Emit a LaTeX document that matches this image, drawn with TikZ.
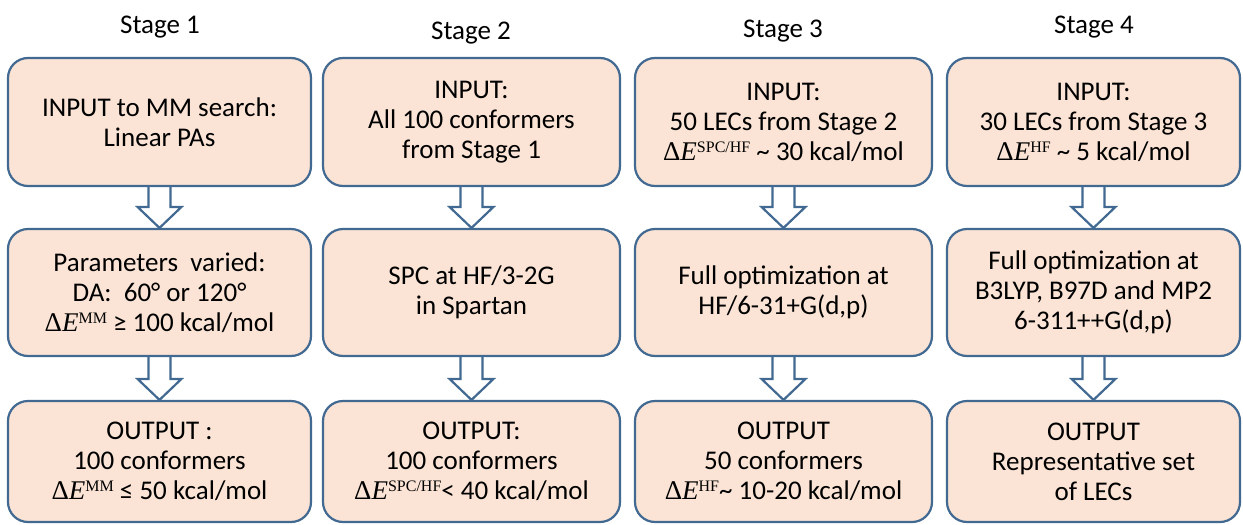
\documentclass[tikz,border=0pt]{standalone}
\usepackage{fontspec}
\setmainfont{Carlito}
\newfontfamily\tms{Liberation Serif}
\usetikzlibrary{calc,backgrounds}
\definecolor{boxline}{RGB}{65,105,145}
\definecolor{boxfill}{RGB}{251,228,213}
% Delta E with a raised label, set in a Times-like face
\newcommand\dE[1]{{\tms Δ\textit{E}\raisebox{8pt}{\fontsize{16}{16}\selectfont #1}}}
% hollow block arrow from the bottom of one box to the top of the next
\newcommand\flowarrow[2]{%
  \draw[flowarr] let \p1=(#1.south), \p2=(#2.north) in
    (\x1-11pt,\y1) -- (\x1-11pt,\y2+21pt) -- (\x1-22pt,\y2+21pt) -- (\x1,\y2)
    -- (\x1+22pt,\y2+21pt) -- (\x1+11pt,\y2+21pt) -- (\x1+11pt,\y1);}
\begin{document}
\begin{tikzpicture}[x=1pt,y=-1pt,
  stepbox/.style={draw=boxline, fill=boxfill, line width=2.2pt, rounded corners=20pt,
    align=center, inner sep=0pt, font=\fontsize{27}{30}\selectfont},
  col1/.style={minimum width=303pt},
  col2/.style={minimum width=297pt},
  col3/.style={minimum width=297pt},
  col4/.style={minimum width=293pt},
  rowa/.style={minimum height=128pt},
  rowb/.style={minimum height=127pt},
  rowc/.style={minimum height=121pt},
  title/.style={font=\fontsize{27}{30}\selectfont, inner sep=0pt},
  flowarr/.style={draw=boxline, fill=white, line width=2.2pt, line join=miter}]
\useasboundingbox (0,0) rectangle (1243,525);

% stage titles
\node[title] (t1) at (160,27) {Stage 1};
\node[title] (t2) at (471,33) {Stage 2};
\node[title] (t3) at (783,31) {Stage 3};
\node[title] (t4) at (1094,27) {Stage 4};

% stage 1
\node[stepbox,col1,rowa] (a1) at (159.5,122) {INPUT to MM search:\\Linear PAs};
\node[stepbox,col1,rowb] (b1) at (159.5,292.5) {Parameters\ \ varied:\\DA:\ \ 60° or 120°\\\dE{MM} ≥ 100 kcal/mol};
\node[stepbox,col1,rowc] (c1) at (159.5,461.5) {OUTPUT :\\100 conformers\\\dE{MM} ≤ 50 kcal/mol};

% stage 2
\node[stepbox,col2,rowa] (a2) at (471.5,122) {INPUT:\\All 100 conformers\\from Stage 1};
\node[stepbox,col2,rowb] (b2) at (471.5,292.5) {SPC at HF/3-2G\\in Spartan};
\node[stepbox,col2,rowc] (c2) at (471.5,461.5) {OUTPUT:\\100 conformers\\\dE{SPC/HF}< 40 kcal/mol};

% stage 3
\node[stepbox,col3,rowa] (a3) at (783.5,122) {INPUT:\\50 LECs from Stage 2\\\dE{SPC/HF} \textasciitilde\ 30 kcal/mol};
\node[stepbox,col3,rowb] (b3) at (783.5,292.5) {Full optimization at\\HF/6-31+G(d,p)};
\node[stepbox,col3,rowc] (c3) at (783.5,461.5) {OUTPUT\\50 conformers\\\dE{HF}\textasciitilde\ 10-20 kcal/mol};

% stage 4
\node[stepbox,col4,rowa] (a4) at (1093.5,122) {INPUT:\\30 LECs from Stage 3\\\dE{HF} \textasciitilde\ 5 kcal/mol};
\node[stepbox,col4,rowb] (b4) at (1093.5,292.5) {Full optimization at\\B3LYP, B97D and MP2\\6-311++G(d,p)};
\node[stepbox,col4,rowc] (c4) at (1093.5,461.5) {OUTPUT\\Representative set\\of LECs};

% arrows between the boxes of each stage
\begin{pgfonlayer}{background}
\flowarrow{a1}{b1}\flowarrow{b1}{c1}
\flowarrow{a2}{b2}\flowarrow{b2}{c2}
\flowarrow{a3}{b3}\flowarrow{b3}{c3}
\flowarrow{a4}{b4}\flowarrow{b4}{c4}
\end{pgfonlayer}
\end{tikzpicture}
\end{document}
